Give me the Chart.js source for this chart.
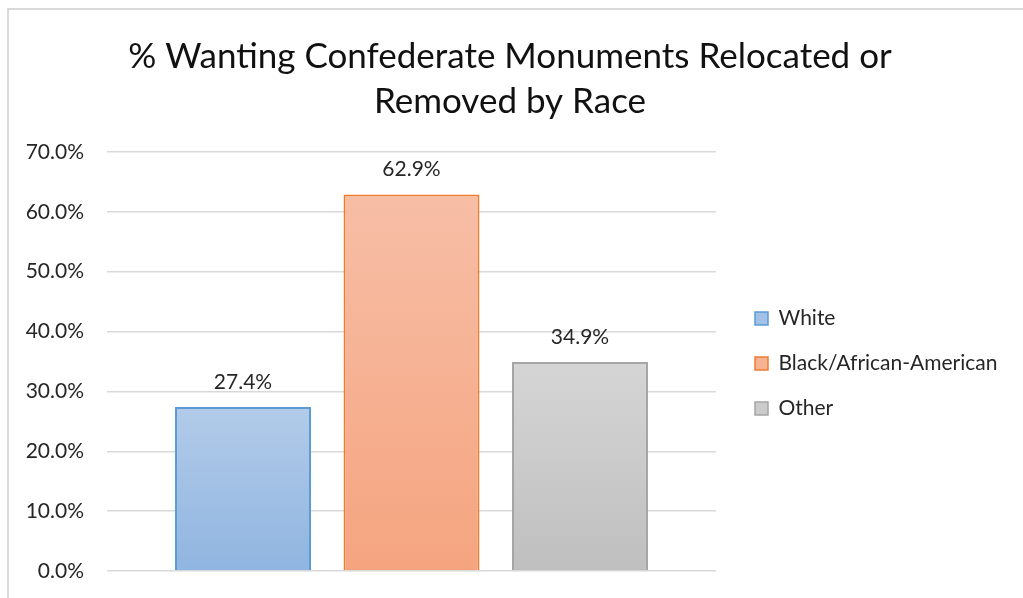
<!DOCTYPE html>
<html>
<head>
<meta charset="utf-8">
<script src="https://cdn.jsdelivr.net/npm/chart.js@4/dist/chart.umd.min.js"></script>
<style>
  html, body { margin: 0; padding: 0; background: #fff; overflow: hidden; }
  #wrap { position: relative; width: 1023px; height: 598px; overflow: hidden; }
  #frame { position: absolute; left: 7px; top: 8px; width: 2000px; height: 1000px;
           border-left: 2px solid #d9d9d9; border-top: 2px solid #d9d9d9; }
  canvas { position: absolute; left: 0; top: 0; }
</style>
</head>
<body>
<div id="wrap">
  <div id="frame"></div>
  <canvas id="c" width="1023" height="598"></canvas>
</div>
<script>
const titleLines = ['% Wanting Confederate Monuments Relocated or', 'Removed by Race'];
const categories = [''];
const seriesNames = ['White', 'Black/African-American', 'Other'];
const whiteValues = [27.4];
const blackValues = [62.9];
const otherValues = [34.9];
const yTicks = [0, 10, 20, 30, 40, 50, 60, 70];

const FONT = 'Lato, "Open Sans", sans-serif';

const styles = [
  { top: '#b2cbe9', bottom: '#90b5e0', border: '#5b9bd5', legend: '#a3c1e6' },
  { top: '#f7bea6', bottom: '#f5a47f', border: '#ed7d31', legend: '#f6b394' },
  { top: '#d5d5d5', bottom: '#bfbfbf', border: '#a5a5a5', legend: '#cbcbcb' }
];

function gradientFill(i) {
  return (ctx) => {
    const chart = ctx.chart;
    const s = styles[i];
    if (!chart.chartArea || ctx.type !== 'data' || !chart.scales.y) return s.legend;
    const y = chart.scales.y;
    const top = y.getPixelForValue(ctx.raw);
    const bottom = y.getPixelForValue(0);
    if (!isFinite(top) || !isFinite(bottom) || top === bottom) return s.legend;
    const g = chart.ctx.createLinearGradient(0, top, 0, bottom);
    g.addColorStop(0, s.top);
    g.addColorStop(1, s.bottom);
    return g;
  };
}

const allValues = [whiteValues, blackValues, otherValues];
const datasets = seriesNames.map((name, i) => ({
  label: name,
  data: allValues[i],
  backgroundColor: gradientFill(i),
  borderColor: styles[i].border,
  borderWidth: 2,
  categoryPercentage: 0.83,
  barPercentage: 0.807
}));

const valueLabels = {
  id: 'valueLabels',
  afterDatasetsDraw(chart) {
    const ctx = chart.ctx;
    ctx.save();
    ctx.font = '21px ' + FONT;
    ctx.fillStyle = '#262626';
    ctx.textAlign = 'center';
    ctx.textBaseline = 'middle';
    chart.data.datasets.forEach((ds, di) => {
      const meta = chart.getDatasetMeta(di);
      meta.data.forEach((bar, j) => {
        ctx.fillText(ds.data[j].toFixed(1) + '%', bar.x, bar.y - 25);
      });
    });
    ctx.restore();
  }
};

const LEGEND_WIDTH = 297;
const LEGEND_SHIFT_X = 15;
const LEGEND_SHIFT_Y = 78;
const legendPlacer = {
  id: 'legendPlacer',
  beforeLayout(chart) {
    const lg = chart.legend;
    if (lg && !lg._patched) {
      const orig = lg.fit.bind(lg);
      lg.fit = function () { orig(); this.width = LEGEND_WIDTH; };
      lg._patched = true;
    }
  },
  afterLayout(chart) {
    const lg = chart.legend;
    if (lg) {
      lg.left += LEGEND_SHIFT_X; lg.right += LEGEND_SHIFT_X;
      lg.top += LEGEND_SHIFT_Y; lg.bottom += LEGEND_SHIFT_Y;
    }
  }
};

new Chart(document.getElementById('c'), {
  type: 'bar',
  data: { labels: categories, datasets },
  plugins: [valueLabels, legendPlacer],
  options: {
    responsive: false,
    animation: false,
    layout: { padding: { left: 7, right: 10, top: 0, bottom: 27 } },
    scales: {
      x: {
        ticks: { display: false },
        grid: { display: false, drawTicks: false },
        border: { display: false },
        afterFit(scale) { scale.height = 0; scale.paddingLeft = 0; scale.paddingRight = 0; }
      },
      y: {
        min: 0, max: 70,
        afterBuildTicks(scale) { scale.ticks = yTicks.map(v => ({ value: v })); },
        afterFit(scale) { scale.width = 100; scale.paddingTop = 0; scale.paddingBottom = 0; },
        ticks: {
          padding: 23,
          color: '#262626',
          font: { family: FONT, size: 21 },
          callback: (v) => Number(v).toFixed(1) + '%'
        },
        grid: { color: '#d9d9d9', lineWidth: 1.5, drawTicks: false },
        border: { display: false }
      }
    },
    plugins: {
      title: {
        display: true,
        text: titleLines,
        color: '#111',
        font: { family: FONT, size: 35, weight: 'normal', lineHeight: 1.286 },
        padding: { top: 34, bottom: 28 }
      },
      legend: {
        position: 'right',
        align: 'center',
        labels: {
          color: '#262626',
          font: { family: FONT, size: 21 },
          boxWidth: 13,
          boxHeight: 13,
          padding: 24,
          generateLabels(chart) {
            return chart.data.datasets.map((ds, i) => ({
              text: ds.label,
              fillStyle: styles[i].legend,
              strokeStyle: styles[i].border,
              lineWidth: 1.5,
              fontColor: '#262626',
              hidden: false,
              datasetIndex: i
            }));
          }
        }
      },
      tooltip: { enabled: false }
    }
  }
});
</script>
</body>
</html>
